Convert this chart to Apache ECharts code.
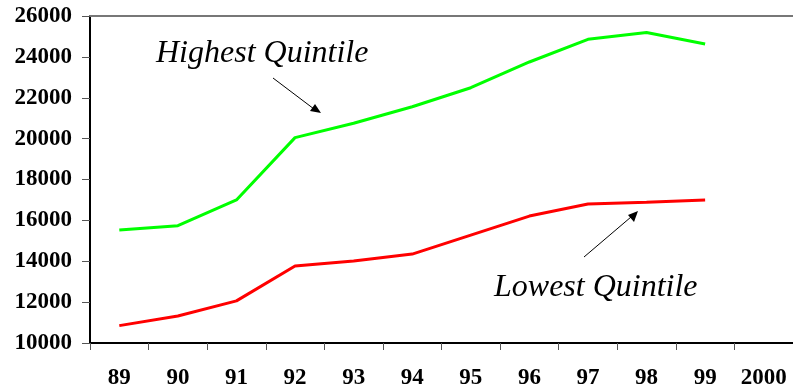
<!DOCTYPE html>
<html>
<head>
<meta charset="utf-8">
<script src="https://cdn.jsdelivr.net/npm/echarts@6/dist/echarts.min.js"></script>
<style>html,body{margin:0;padding:0;background:#fff;}#c{width:793px;height:391px;}</style>
</head>
<body>
<div id="c"></div>
<script>
const categories = ['89','90','91','92','93','94','95','96','97','98','99','2000'];
const highestQuintile = [15530, 15740, 17000, 20050, 20750, 21560, 22490, 23750, 24860, 25190, 24630, null];
const lowestQuintile = [10850, 11320, 12060, 13770, 14010, 14350, 15280, 16210, 16800, 16890, 17000, null];
const yTicks = [10000, 12000, 14000, 16000, 18000, 20000, 22000, 24000, 26000];

const chart = echarts.init(document.getElementById('c'), null, {renderer: 'canvas'});
const font = '"Liberation Serif", "Times New Roman", serif';
chart.setOption({
  animation: false,
  backgroundColor: '#ffffff',
  grid: {left: 90, right: 0, top: 16, bottom: 48, containLabel: false},
  xAxis: [{
    type: 'category',
    data: categories,
    boundaryGap: true,
    axisLine: {lineStyle: {color: '#000', width: 2}},
    axisTick: {show: true, length: 7, lineStyle: {color: '#555', width: 1}},
    axisLabel: {color: '#000', fontFamily: font, fontWeight: 'bold', fontSize: 23, margin: 24, interval: 0},
    splitLine: {show: false}
  }, {
    type: 'category',
    data: categories,
    position: 'top',
    axisLine: {show: true, lineStyle: {color: '#777', width: 2}},
    axisTick: {show: false},
    axisLabel: {show: false},
    splitLine: {show: false}
  }],
  yAxis: {
    type: 'value',
    min: yTicks[0],
    max: yTicks[yTicks.length - 1],
    interval: 2000,
    axisLine: {show: true, lineStyle: {color: '#000', width: 2}},
    axisTick: {show: true, length: 8, lineStyle: {color: '#555', width: 1}},
    axisLabel: {color: '#000', fontFamily: font, fontWeight: 'bold', fontSize: 23, margin: 18,
      formatter: function (v) { return String(v); }},
    splitLine: {show: false}
  },
  series: [{
    name: 'Highest Quintile',
    type: 'line',
    data: highestQuintile,
    showSymbol: false,
    lineStyle: {color: '#00ff00', width: 3},
    itemStyle: {color: '#00ff00'}
  }, {
    name: 'Lowest Quintile',
    type: 'line',
    data: lowestQuintile,
    showSymbol: false,
    lineStyle: {color: '#ff0000', width: 3},
    itemStyle: {color: '#ff0000'}
  }],
  graphic: [
    {type: 'text', left: 156, top: 38, style: {text: 'Highest Quintile', font: 'italic 32px ' + font, fill: '#000'}},
    {type: 'text', left: 494, top: 272, style: {text: 'Lowest Quintile', font: 'italic 32px ' + font, fill: '#000'}},
    {type: 'line', shape: {x1: 273, y1: 78, x2: 314, y2: 109}, style: {stroke: '#000', lineWidth: 1}},
    {type: 'polygon', shape: {points: [[321, 113], [310, 111], [315, 104]]}, style: {fill: '#000'}},
    {type: 'line', shape: {x1: 584, y1: 257, x2: 631, y2: 217}, style: {stroke: '#000', lineWidth: 1}},
    {type: 'polygon', shape: {points: [[638, 211], [634, 222], [628, 215]]}, style: {fill: '#000'}}
  ]
});
</script>
</body>
</html>
